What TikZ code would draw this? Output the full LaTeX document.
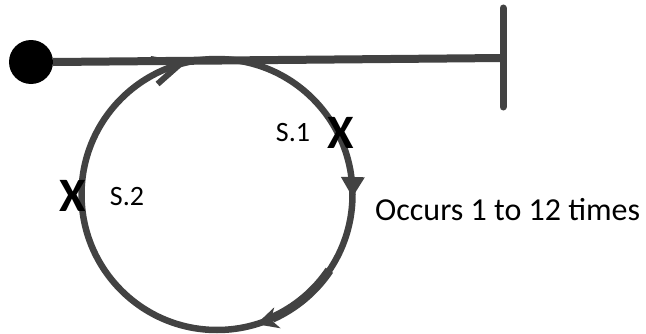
\documentclass[tikz,border=0pt]{standalone}
\usepackage{fontspec}
\setmainfont{Carlito}
\usetikzlibrary{arrows.meta,decorations.markings,positioning}
\definecolor{trackgray}{HTML}{424242}

\tikzset{
  track/.style={draw=trackgray,line width=6.5pt},
  xmark/.style={font=\bfseries\fontsize{48}{48}\selectfont,inner sep=0pt},
  slabel/.style={font=\fontsize{28}{28}\selectfont,inner sep=0pt},
  note/.style={font=\fontsize{32}{32}\selectfont,inner sep=0pt,anchor=west},
  headfill/.style={fill=trackgray},
}

\begin{document}
\begin{tikzpicture}[x=1pt,y=1pt]
  \useasboundingbox (0,0) rectangle (646,333);
  % the loop, with its heads
  \coordinate (centre) at (217,138.5);
  \draw[track,line width=9pt] (centre) ++(-34:135.5) arc[start angle=-34,end angle=-66,radius=135.5];
  \draw[track,postaction={decorate},decoration={markings,
      mark=at position 0.253 with {\fill[headfill] (0,0) -- (-20pt,12pt) -- (-20pt,-12pt) -- cycle;},
      mark=at position 0.453 with {\fill[headfill] (0,0) -- (-22pt,11pt) -- (-15pt,0) -- (-22pt,-11pt) -- cycle;},
      mark=at position 0.956 with {\draw[trackgray,line width=6pt] (-27pt,13pt) -- (0,0) -- (-27pt,-13pt);}}]
    (217,274) arc[start angle=90,end angle=-270,radius=135.5];
  % stop bar and main line
  \coordinate (lineend) at (503,275);
  \coordinate (bartop) at (503,325);
  \coordinate (barbot) at (503,226);
  \node[circle,fill=black,minimum size=44pt,inner sep=0pt] (start) at (31,271) {};
  \draw[track,line width=8pt] (start.east) -- (lineend);
  \draw[track,line width=7pt,line cap=round] (bartop) -- (barbot);
  % stop marks and labels
  \node[xmark] (x1) at (341,200) {X};
  \node[xmark] (x2) at (73,137) {X};
  \node[slabel] (s1) at (293,200) {S.1};
  \node[slabel] (s2) at (127,136) {S.2};
  \node[note] (times) at (375,123) {Occurs 1 to 12 times};
\end{tikzpicture}
\end{document}
